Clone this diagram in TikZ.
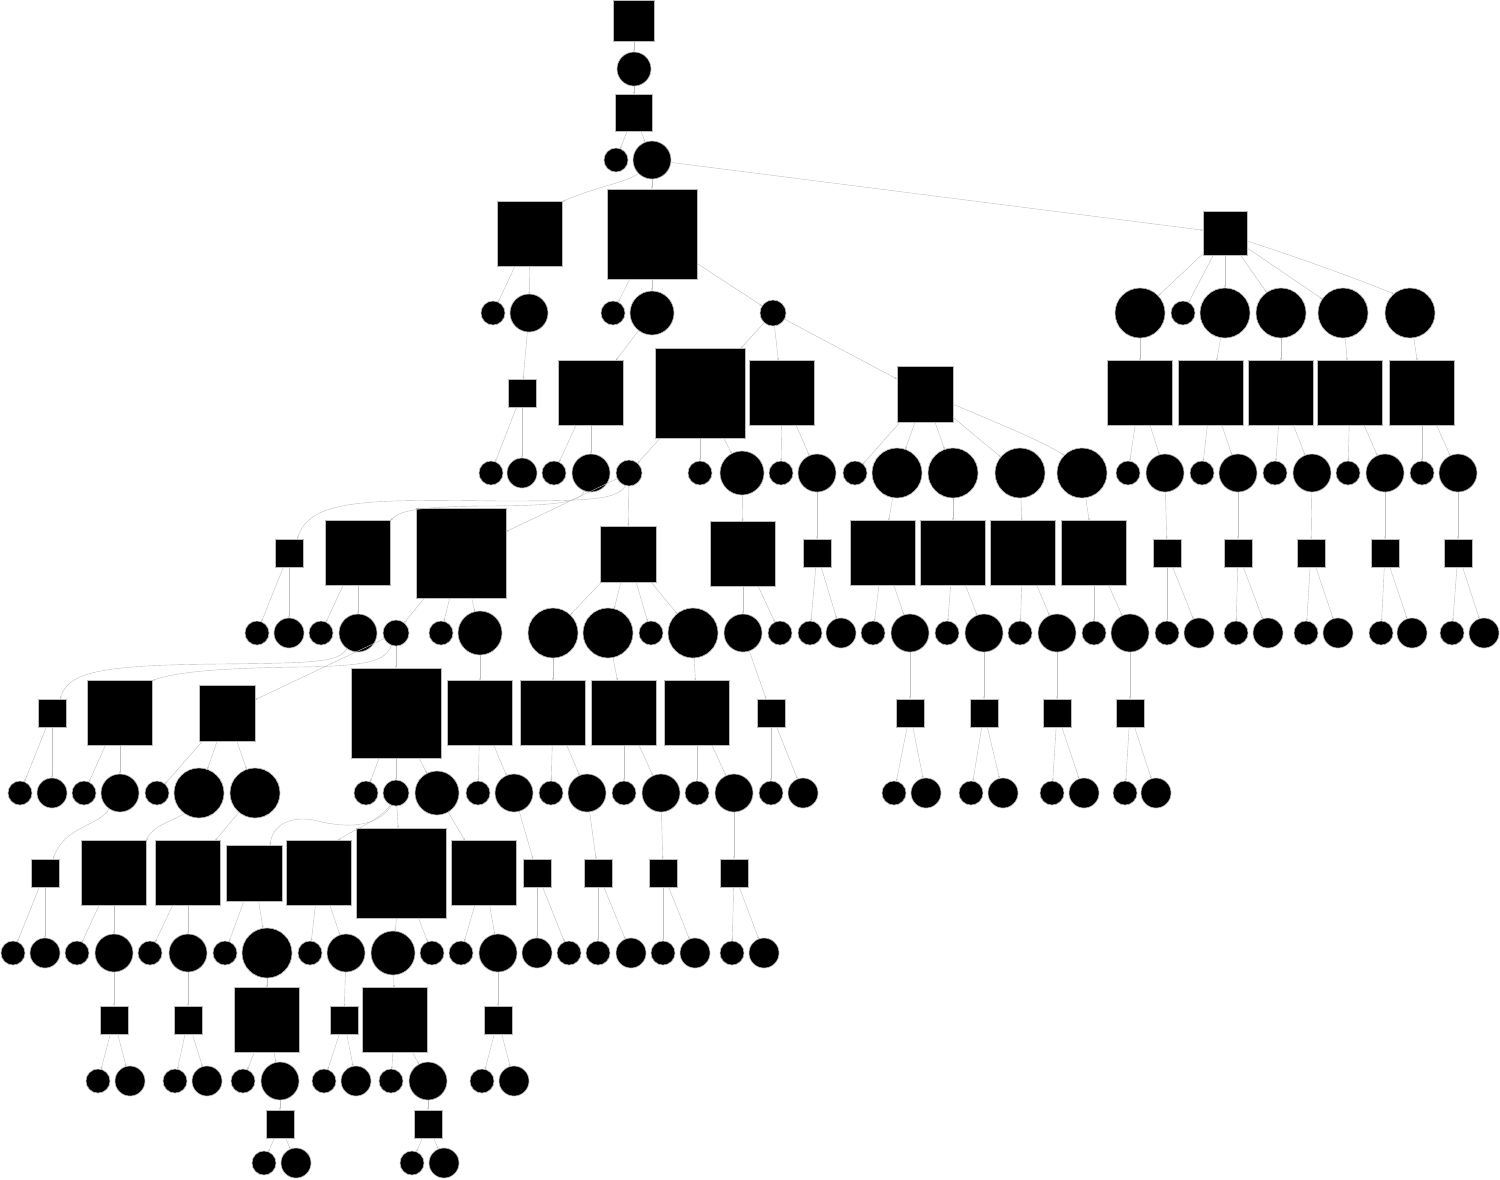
\documentclass[tikz,border=0pt]{standalone}
\usetikzlibrary{arrows.meta}
\begin{document}
\begin{tikzpicture}[x=1pt,y=-1pt,
  nd/.style={fill=black,draw=gray!55,line width=0.6pt,inner sep=0pt,outer sep=0pt},
  sq/.style={nd,rectangle,minimum size=#1},
  ci/.style={nd,circle,minimum size=#1},
  edge/.style={draw=gray!50,line width=0.4pt,-{Stealth[length=2.6pt,width=1.8pt]}}]
\useasboundingbox (0,0) rectangle (1500,1179);
% row 0-3
\node[sq=41pt] (s0) at (634,21) {};
\node[ci=34pt] (c1) at (634,69) {};
\node[sq=37pt] (s2) at (634,113) {};
\node[ci=24pt] (c3a) at (616,160) {};
\node[ci=38pt] (c3b) at (652,160) {};
% row 4
\node[sq=65pt] (s4a) at (530,234) {};
\node[sq=90pt] (s4b) at (652,234) {};
\node[sq=44pt] (s4c) at (1225,233) {};
% row 5
\node[ci=24pt] (c5a) at (493,313) {};
\node[ci=38pt] (c5b) at (529,313) {};
\node[ci=24pt] (c5c) at (613,313) {};
\node[ci=44pt] (c5d) at (652,313) {};
\node[ci=26pt] (c5e) at (773,313) {};
\node[ci=50pt] (c5f) at (1140,313) {};
\node[ci=24pt] (c5g) at (1183,313) {};
\node[ci=50pt] (c5h) at (1225,313) {};
\node[ci=50pt] (c5i) at (1281,313) {};
\node[ci=50pt] (c5j) at (1343,313) {};
\node[ci=50pt] (c5k) at (1410,313) {};
% row 6
\node[sq=28pt] (s6a) at (522,393) {};
\node[sq=65pt] (s6b) at (591,393) {};
\node[sq=90pt] (s6c) at (700,393) {};
\node[sq=65pt] (s6d) at (782,393) {};
\node[sq=56pt] (s6e) at (925,394) {};
\node[sq=65pt] (s6f) at (1140,393) {};
\node[sq=65pt] (s6g) at (1211,393) {};
\node[sq=65pt] (s6h) at (1281,393) {};
\node[sq=65pt] (s6i) at (1350,393) {};
\node[sq=65pt] (s6j) at (1422,393) {};
% row 7
\node[ci=24pt] (c7a) at (491,473) {};
\node[ci=30pt] (c7b) at (522,473) {};
\node[ci=24pt] (c7c) at (554,473) {};
\node[ci=38pt] (c7d) at (591,473) {};
\node[ci=26pt] (c7e) at (629,473) {};
\node[ci=24pt] (c7f) at (700,473) {};
\node[ci=44pt] (c7g) at (742,473) {};
\node[ci=24pt] (c7h) at (781,473) {};
\node[ci=38pt] (c7i) at (817,473) {};
\node[ci=24pt] (c7j) at (855,473) {};
\node[ci=50pt] (c7k) at (897,473) {};
\node[ci=50pt] (c7l) at (953,473) {};
\node[ci=50pt] (c7m) at (1020,473) {};
\node[ci=50pt] (c7n) at (1082,473) {};
\node[ci=24pt] (c7o) at (1128,473) {};
\node[ci=38pt] (c7p) at (1165,473) {};
\node[ci=24pt] (c7q) at (1202,473) {};
\node[ci=38pt] (c7r) at (1238,473) {};
\node[ci=24pt] (c7s) at (1275,473) {};
\node[ci=38pt] (c7t) at (1312,473) {};
\node[ci=24pt] (c7u) at (1348,473) {};
\node[ci=38pt] (c7v) at (1385,473) {};
\node[ci=24pt] (c7w) at (1422,473) {};
\node[ci=38pt] (c7x) at (1458,473) {};
% row 8
\node[sq=28pt] (s8a) at (289,553) {};
\node[sq=65pt] (s8b) at (358,553) {};
\node[sq=90pt] (s8c) at (461,553) {};
\node[sq=56pt] (s8d) at (628,554) {};
\node[sq=65pt] (s8e) at (743,554) {};
\node[sq=28pt] (s8f) at (817,553) {};
\node[sq=65pt] (s8g) at (883,553) {};
\node[sq=65pt] (s8h) at (953,553) {};
\node[sq=65pt] (s8i) at (1023,553) {};
\node[sq=65pt] (s8j) at (1094,553) {};
\node[sq=28pt] (s8k) at (1167,553) {};
\node[sq=28pt] (s8l) at (1238,553) {};
\node[sq=28pt] (s8m) at (1311,553) {};
\node[sq=28pt] (s8n) at (1385,553) {};
\node[sq=28pt] (s8o) at (1458,553) {};
% row 9
\node[ci=24pt] (c9a) at (257,633) {};
\node[ci=30pt] (c9b) at (289,633) {};
\node[ci=24pt] (c9c) at (321,633) {};
\node[ci=38pt] (c9d) at (358,633) {};
\node[ci=26pt] (c9e) at (396,633) {};
\node[ci=24pt] (c9f) at (441,633) {};
\node[ci=44pt] (c9g) at (480,633) {};
\node[ci=50pt] (c9h) at (553,633) {};
\node[ci=50pt] (c9i) at (608,633) {};
\node[ci=24pt] (c9j) at (651,633) {};
\node[ci=50pt] (c9k) at (693,633) {};
\node[ci=38pt] (c9l) at (743,633) {};
\node[ci=24pt] (c9m) at (780,633) {};
\node[ci=24pt] (c9n) at (810,633) {};
\node[ci=30pt] (c9o) at (841,633) {};
\node[ci=24pt] (c9p) at (873,633) {};
\node[ci=38pt] (c9q) at (910,633) {};
\node[ci=24pt] (c9r) at (947,633) {};
\node[ci=38pt] (c9s) at (984,633) {};
\node[ci=24pt] (c9t) at (1020,633) {};
\node[ci=38pt] (c9u) at (1057,633) {};
\node[ci=24pt] (c9v) at (1094,633) {};
\node[ci=38pt] (c9w) at (1130,633) {};
\node[ci=24pt] (c9x) at (1167,633) {};
\node[ci=30pt] (c9y) at (1199,633) {};
\node[ci=24pt] (c9z) at (1236,633) {};
\node[ci=30pt] (c9A) at (1268,633) {};
\node[ci=24pt] (c9B) at (1306,633) {};
\node[ci=30pt] (c9C) at (1338,633) {};
\node[ci=24pt] (c9D) at (1381,633) {};
\node[ci=30pt] (c9E) at (1412,633) {};
\node[ci=24pt] (c9F) at (1452,633) {};
\node[ci=30pt] (c9G) at (1484,633) {};
% row 10
\node[sq=28pt] (s10a) at (52,713) {};
\node[sq=65pt] (s10b) at (120,713) {};
\node[sq=56pt] (s10c) at (227,713) {};
\node[sq=90pt] (s10d) at (396,713) {};
\node[sq=65pt] (s10e) at (480,713) {};
\node[sq=65pt] (s10f) at (553,713) {};
\node[sq=65pt] (s10g) at (624,713) {};
\node[sq=65pt] (s10h) at (697,713) {};
\node[sq=28pt] (s10i) at (771,713) {};
\node[sq=28pt] (s10j) at (910,713) {};
\node[sq=28pt] (s10k) at (984,713) {};
\node[sq=28pt] (s10l) at (1057,713) {};
\node[sq=28pt] (s10m) at (1130,713) {};
% row 11
\node[ci=24pt] (c11a) at (20,793) {};
\node[ci=30pt] (c11b) at (52,793) {};
\node[ci=24pt] (c11c) at (84,793) {};
\node[ci=38pt] (c11d) at (120,793) {};
\node[ci=24pt] (c11e) at (157,793) {};
\node[ci=50pt] (c11f) at (199,793) {};
\node[ci=50pt] (c11g) at (255,793) {};
\node[ci=24pt] (c11h) at (366,793) {};
\node[ci=26pt] (c11i) at (396,793) {};
\node[ci=44pt] (c11j) at (437,793) {};
\node[ci=24pt] (c11k) at (478,793) {};
\node[ci=38pt] (c11l) at (514,793) {};
\node[ci=24pt] (c11m) at (551,793) {};
\node[ci=38pt] (c11n) at (587,793) {};
\node[ci=24pt] (c11o) at (624,793) {};
\node[ci=38pt] (c11p) at (661,793) {};
\node[ci=24pt] (c11q) at (697,793) {};
\node[ci=38pt] (c11r) at (734,793) {};
\node[ci=24pt] (c11s) at (771,793) {};
\node[ci=30pt] (c11t) at (803,793) {};
\node[ci=24pt] (c11u) at (894,793) {};
\node[ci=30pt] (c11v) at (926,793) {};
\node[ci=24pt] (c11w) at (971,793) {};
\node[ci=30pt] (c11x) at (1003,793) {};
\node[ci=24pt] (c11y) at (1052,793) {};
\node[ci=30pt] (c11z) at (1084,793) {};
\node[ci=24pt] (c11A) at (1125,793) {};
\node[ci=30pt] (c11B) at (1156,793) {};
% row 12
\node[sq=28pt] (s12a) at (45,873) {};
\node[sq=65pt] (s12b) at (114,873) {};
\node[sq=65pt] (s12c) at (188,873) {};
\node[sq=56pt] (s12d) at (254,873) {};
\node[sq=65pt] (s12e) at (319,873) {};
\node[sq=90pt] (s12f) at (401,873) {};
\node[sq=65pt] (s12g) at (484,873) {};
\node[sq=28pt] (s12h) at (537,873) {};
\node[sq=28pt] (s12i) at (598,873) {};
\node[sq=28pt] (s12j) at (663,873) {};
\node[sq=28pt] (s12k) at (734,873) {};
% row 13
\node[ci=24pt] (c13a) at (13,953) {};
\node[ci=30pt] (c13b) at (45,953) {};
\node[ci=24pt] (c13c) at (77,953) {};
\node[ci=38pt] (c13d) at (114,953) {};
\node[ci=24pt] (c13e) at (150,953) {};
\node[ci=38pt] (c13f) at (188,953) {};
\node[ci=24pt] (c13g) at (225,953) {};
\node[ci=50pt] (c13h) at (267,953) {};
\node[ci=24pt] (c13i) at (310,953) {};
\node[ci=38pt] (c13j) at (346,953) {};
\node[ci=44pt] (c13k) at (393,953) {};
\node[ci=24pt] (c13l) at (432,953) {};
\node[ci=24pt] (c13m) at (461,953) {};
\node[ci=38pt] (c13n) at (498,953) {};
\node[ci=30pt] (c13o) at (537,953) {};
\node[ci=24pt] (c13p) at (569,953) {};
\node[ci=24pt] (c13q) at (598,953) {};
\node[ci=30pt] (c13r) at (631,953) {};
\node[ci=24pt] (c13s) at (663,953) {};
\node[ci=30pt] (c13t) at (695,953) {};
\node[ci=24pt] (c13u) at (732,953) {};
\node[ci=30pt] (c13v) at (764,953) {};
% row 14
\node[sq=28pt] (s14a) at (114,1020) {};
\node[sq=28pt] (s14b) at (188,1020) {};
\node[sq=65pt] (s14c) at (267,1020) {};
\node[sq=28pt] (s14d) at (344,1020) {};
\node[sq=65pt] (s14e) at (395,1020) {};
\node[sq=28pt] (s14f) at (498,1020) {};
% row 15
\node[ci=24pt] (c15a) at (98,1081) {};
\node[ci=30pt] (c15b) at (130,1081) {};
\node[ci=24pt] (c15c) at (175,1081) {};
\node[ci=30pt] (c15d) at (207,1081) {};
\node[ci=24pt] (c15e) at (243,1081) {};
\node[ci=38pt] (c15f) at (280,1081) {};
\node[ci=24pt] (c15g) at (324,1081) {};
\node[ci=30pt] (c15h) at (356,1081) {};
\node[ci=24pt] (c15i) at (391,1081) {};
\node[ci=38pt] (c15j) at (428,1081) {};
\node[ci=24pt] (c15k) at (482,1081) {};
\node[ci=30pt] (c15l) at (514,1081) {};
% row 16-17
\node[sq=28pt] (s16a) at (280,1124) {};
\node[sq=28pt] (s16b) at (428,1124) {};
\node[ci=24pt] (c17a) at (264,1163) {};
\node[ci=30pt] (c17b) at (296,1163) {};
\node[ci=24pt] (c17c) at (412,1163) {};
\node[ci=30pt] (c17d) at (444,1163) {};
% straight edges
\foreach \a/\b in {s0/c1,c1/s2,s2/c3a,s2/c3b,c3b/s4b,c3b/s4c,
  s4a/c5a,s4a/c5b,s4b/c5c,s4b/c5d,s4b/c5e,
  s4c/c5f,s4c/c5g,s4c/c5h,s4c/c5i,s4c/c5j,
  c5b/s6a,c5d/s6b,c5e/s6c,c5e/s6d,c5e/s6e,c5f/s6f,c5h/s6g,c5i/s6h,c5j/s6i,c5k/s6j,
  s6a/c7a,s6a/c7b,s6b/c7c,s6b/c7d,s6c/c7e,s6c/c7f,s6c/c7g,s6d/c7h,s6d/c7i,
  s6e/c7j,s6e/c7k,s6e/c7l,s6e/c7m,s6f/c7o,s6f/c7p,s6g/c7q,s6g/c7r,s6h/c7s,s6h/c7t,
  s6i/c7u,s6i/c7v,s6j/c7w,s6j/c7x,
  c7e/s8c,c7e/s8d,c7g/s8e,c7i/s8f,c7k/s8g,c7l/s8h,c7m/s8i,c7n/s8j,
  c7p/s8k,c7r/s8l,c7t/s8m,c7v/s8n,c7x/s8o,
  s8a/c9a,s8a/c9b,s8b/c9c,s8b/c9d,s8c/c9e,s8c/c9f,s8c/c9g,
  s8d/c9h,s8d/c9i,s8d/c9j,s8d/c9k,s8e/c9l,s8e/c9m,s8f/c9n,s8f/c9o,
  s8g/c9p,s8g/c9q,s8h/c9r,s8h/c9s,s8i/c9t,s8i/c9u,s8j/c9v,s8j/c9w,
  s8k/c9x,s8k/c9y,s8l/c9z,s8l/c9A,s8m/c9B,s8m/c9C,s8n/c9D,s8n/c9E,s8o/c9F,s8o/c9G,
  c9e/s10c,c9e/s10d,c9g/s10e,c9h/s10f,c9i/s10g,c9k/s10h,c9l/s10i,
  c9q/s10j,c9s/s10k,c9u/s10l,c9w/s10m,
  s10a/c11a,s10a/c11b,s10b/c11c,s10b/c11d,s10c/c11e,s10c/c11f,s10c/c11g,
  s10d/c11h,s10d/c11i,s10d/c11j,s10e/c11k,s10e/c11l,s10f/c11m,s10f/c11n,
  s10g/c11o,s10g/c11p,s10h/c11q,s10h/c11r,s10i/c11s,s10i/c11t,
  s10j/c11u,s10j/c11v,s10k/c11w,s10k/c11x,s10l/c11y,s10l/c11z,s10m/c11A,s10m/c11B,
  c11g/s12c,c11i/s12f,c11j/s12g,c11l/s12h,c11n/s12i,c11p/s12j,c11r/s12k,
  s12a/c13a,s12a/c13b,s12b/c13c,s12b/c13d,s12c/c13e,s12c/c13f,s12d/c13g,s12d/c13h,
  s12e/c13i,s12e/c13j,s12f/c13k,s12f/c13l,s12g/c13m,s12g/c13n,s12h/c13o,s12h/c13p,
  s12i/c13q,s12i/c13r,s12j/c13s,s12j/c13t,s12k/c13u,s12k/c13v,
  c13d/s14a,c13f/s14b,c13h/s14c,c13j/s14d,c13k/s14e,c13n/s14f,
  s14a/c15a,s14a/c15b,s14b/c15c,s14b/c15d,s14c/c15e,s14c/c15f,
  s14d/c15g,s14d/c15h,s14e/c15i,s14e/c15j,s14f/c15k,s14f/c15l,
  c15f/s16a,c15j/s16b,s16a/c17a,s16a/c17b,s16b/c17c,s16b/c17d}
  \draw[edge] (\a) -- (\b);
% curved edges
\draw[edge] (c3b.225) .. controls (625,183) and (595,187) .. (s4a.north east);
\draw[edge] (s4c.-20) .. controls (1300,258) and (1360,280) .. (c5k.130);
\draw[edge] (s6e.-20) .. controls (990,420) and (1040,440) .. (c7n.135);
\draw[edge] (c7e.255) .. controls (617,500) and (590,501) .. (500,501)
  .. controls (360,499) and (310,500) .. (s8a.60);
\draw[edge] (c7d.250) .. controls (580,502) and (560,506) .. (480,506)
  .. controls (420,507) and (400,510) .. (s8b.north east);
\draw[edge] (c9d.235) .. controls (338,662) and (320,663) .. (220,664)
  .. controls (100,665) and (68,672) .. (s10a.60);
\draw[edge] (c9e.250) .. controls (385,661) and (370,666) .. (300,667)
  .. controls (220,668) and (175,672) .. (s10b.north east);
\draw[edge] (c11d.235) .. controls (100,826) and (64,826) .. (s12a.60);
\draw[edge] (c11f.235) .. controls (170,822) and (152,826) .. (s12b.north east);
\draw[edge] (c11i.250) .. controls (378,828) and (345,828) .. (318,821)
  .. controls (290,814) and (272,826) .. (s12d.60);
\draw[edge] (c11i.245) .. controls (378,822) and (352,830) .. (s12e.60);
\end{tikzpicture}
\end{document}
